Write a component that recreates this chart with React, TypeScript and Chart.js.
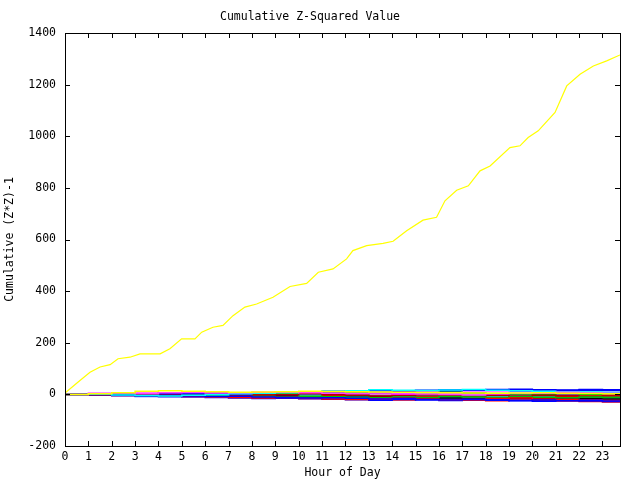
import React, { useEffect, useRef } from "react";
import { Chart, registerables } from "chart.js";

Chart.register(...registerables);

const titleText = "Cumulative Z-Squared Value";
const xTitle = "Hour of Day";
const yTitle = "Cumulative (Z*Z)-1";
const xTickLabels = ["0","1","2","3","4","5","6","7","8","9","10","11","12","13","14","15","16","17","18","19","20","21","22","23"];
const yTicks = [-200, 0, 200, 400, 600, 800, 1000, 1200, 1400];

// main (rising) series
const yellowHours = [0,0.64,1.07,1.5,1.93,2.27,2.78,3.21,4.07,4.49,4.99,5.56,5.85,6.33,6.76,7.19,7.7,8.2,8.9,9.63,10.34,10.84,11.47,12.05,12.32,12.91,13.61,14.04,14.62,15.32,15.9,16.26,16.76,17.26,17.76,18.19,19.04,19.47,19.82,20.25,20.97,21.47,22.04,22.61,23.18,23.75];
const yellowValues = [5,54,86,106,115,138,144,157,157,177,215,215,241,260,267,305,338,350,376,418,430,473,486,525,557,576,585,593,634,675,686,750,791,808,866,885,956,963,995,1021,1092,1195,1240,1272,1292,1315];

// hourly points for the near-zero series
const hours = [0,1,2,3,4,5,6,7,8,9,10,11,12,13,14,15,16,17,18,19,20,21,22,23,23.75];

const s01 = [0,2,6,12,14,12,10,8,9,10,12,11,10,9,8,7,6,5,4,5,6,4,3,2,3];
const s02 = [0,4,5,3,6,7,5,6,8,9,6,4,3,5,2,1,0,-2,2,4,6,8,5,4,6];
const s03 = [0,1,-2,-4,-6,-3,-1,2,4,6,10,12,14,18,16,15,17,19,16,14,12,10,9,8,7];
const s04 = [0,-1,-3,-5,-4,-6,-8,-7,-10,-12,-14,-13,-15,-18,-16,-20,-22,-19,-21,-24,-22,-25,-23,-26,-27];
const s05 = [0,-2,-4,-3,-5,-8,-10,-12,-14,-12,-16,-18,-20,-17,-15,-18,-22,-20,-16,-14,-18,-20,-22,-24,-28];
const s06 = [0,-1,-2,-4,-5,-7,-6,-9,-8,-10,-7,-9,-11,-13,-10,-12,-8,-10,-12,-9,-11,-13,-10,-12,-14];
const s07 = [0,1,2,1,3,2,4,3,5,8,10,12,14,15,13,16,18,17,19,20,18,17,19,18,20];
const s08 = [0,-1,1,0,-2,-4,-3,-5,-2,0,2,-1,-3,-6,-4,-2,-5,-7,-4,-6,-3,-5,-8,-6,-9];
const s09 = [0,-2,-1,-3,-4,-3,-5,-6,-8,-7,-9,-11,-12,-10,-13,-15,-14,-16,-13,-15,-17,-14,-16,-18,-17];
const s10 = [0,-3,-5,-8,-9,-11,-10,-12,-9,-11,-13,-10,-12,-14,-11,-13,-15,-12,-14,-16,-13,-15,-17,-19,-21];
const s11 = [0,2,3,1,-1,-3,-5,-4,-2,-6,-8,-5,-3,-7,-5,-9,-7,-11,-13,-10,-12,-9,-6,-4,-2];
const s12 = [0,-2,-4,-6,-8,-10,-12,-14,-16,-15,-17,-19,-21,-23,-20,-22,-24,-21,-23,-25,-27,-24,-26,-28,-30];
const s13 = [0,1,3,2,4,1,3,5,2,4,6,3,5,7,4,6,8,5,3,1,-1,-3,0,2,1];
const s14 = [0,3,4,6,5,7,8,6,4,7,9,11,8,10,12,9,7,10,12,14,11,9,7,10,12];
const s15 = [0,-1,0,-2,-1,-3,-2,1,3,6,8,9,11,10,12,14,13,15,12,14,16,15,17,16,18];
const s16 = [0,-1,-3,-2,-4,-6,-8,-7,-9,-11,-14,-16,-18,-20,-22,-19,-21,-23,-25,-22,-24,-26,-28,-30,-31];
const s17 = [0,-1,1,3,2,0,-2,-4,-1,1,-3,-5,-2,-6,-8,-5,-3,-7,-9,-6,-4,-8,-10,-7,-5];
const s18 = [0,1,-1,-3,-2,-4,-6,-5,-7,-4,-2,-5,-8,-6,-9,-11,-8,-10,-7,-9,-12,-10,-13,-11,-14];
const s19 = [0,-1,-2,0,1,-1,-3,-2,0,-1,-4,-3,-1,2,0,-2,1,3,0,-2,1,-1,2,0,3];
const s20 = [0,-1,-2,-1,-3,-5,-4,-6,-5,-7,-9,-8,-10,-12,-11,-13,-15,-14,-16,-18,-17,-19,-21,-20,-22];
const s21 = [0,0,1,2,0,-1,1,3,2,4,6,5,7,9,8,10,12,11,13,12,14,13,15,14,16];
const s22 = [0,-1,0,-1,-2,-3,-2,-4,-6,-5,-8,-10,-9,-11,-10,-12,-14,-13,-15,-17,-16,-18,-17,-19,-20];
const s23 = [0,0,-1,0,1,2,3,1,0,-2,-4,-3,-5,-4,-6,-5,-3,-4,-2,-3,-5,-4,-6,-5,-7];
const s24 = [0,-1,-3,-4,-6,-7,-9,-8,-10,-9,-11,-10,-8,-9,-7,-8,-6,-9,-11,-10,-12,-14,-13,-15,-16];

const smallSeries = [s01, s02, s03, s04, s05, s06, s07, s08, s09, s10, s11, s12, s13, s14, s15, s16, s17, s18, s19, s20, s21, s22, s23, s24];
const smallColors = ["#ffff00", "#ff40ff", "#00ffff", "#0000ff", "#ff0000", "#00c000", "#0000ff", "#b00000", "#000000", "#5050ff", "#ff0000", "#0000ff", "#00c000", "#ff80ff", "#0000ff", "#ff0000", "#00ffff", "#0000ff", "#ff00ff", "#0000ff", "#0000ff", "#ff0000", "#00c000", "#0000ff"];

const FONT = { family: "'DejaVu Sans Mono', monospace", size: 11.5 };

const frameTicks = {
  id: "frameTicks",
  afterDatasetsDraw(chart: any) {
    const { ctx, chartArea } = chart;
    const { left, right, top, bottom } = chartArea;
    const xs = chart.scales.x;
    const ys = chart.scales.y;
    const L = 5;
    ctx.save();
    ctx.strokeStyle = "#000";
    ctx.lineWidth = 1;
    ctx.beginPath();
    for (let i = 0; i < xTickLabels.length; i++) {
      const px = Math.round(xs.getPixelForValue(i)) + 0.5;
      ctx.moveTo(px, bottom);
      ctx.lineTo(px, bottom - L);
      ctx.moveTo(px, top);
      ctx.lineTo(px, top + L);
    }
    for (const v of yTicks) {
      const py = Math.round(ys.getPixelForValue(v)) + 0.5;
      ctx.moveTo(left, py);
      ctx.lineTo(left + L, py);
      ctx.moveTo(right, py);
      ctx.lineTo(right - L, py);
    }
    ctx.stroke();
    ctx.strokeRect(Math.round(left) + 0.5, Math.round(top) + 0.5, Math.round(right - left), Math.round(bottom - top));
    ctx.restore();
  },
};

export default function App() {
  const ref = useRef<HTMLCanvasElement>(null);
  useEffect(() => {
    if (!ref.current) return;
    const datasets: any[] = [];
    smallSeries.forEach((s, i) => {
      datasets.push({
        data: hours.map((h, j) => ({ x: h, y: s[j] })),
        borderColor: smallColors[i],
        backgroundColor: smallColors[i],
        borderWidth: 1.5,
        pointRadius: 0,
        showLine: true,
        stepped: true,
        fill: false,
      });
    });
    datasets.unshift({
      data: yellowHours.map((h, j) => ({ x: h, y: yellowValues[j] })),
      borderColor: "#ffff00",
      backgroundColor: "#ffff00",
      borderWidth: 1.2,
      pointRadius: 0,
      showLine: true,
      fill: false,
    });
    const chart = new Chart(ref.current, {
      type: "scatter",
      data: { datasets },
      options: {
        animation: false,
        responsive: false,
        devicePixelRatio: 1,
        layout: { padding: { left: 0, right: 20, top: 0, bottom: 0 } },
        plugins: {
          legend: { display: false },
          tooltip: { enabled: false },
          title: {
            display: true,
            text: titleText,
            color: "#000",
            font: { ...FONT, weight: "normal" },
            padding: { top: 10, bottom: 9.2 },
          },
        },
        scales: {
          x: {
            type: "linear",
            min: 0,
            max: 23.75,
            afterFit: (s: any) => { s.height = 34; },
            afterBuildTicks: (s: any) => { s.ticks = xTickLabels.map((_, i) => ({ value: i })); },
            grid: { display: false, drawTicks: false },
            border: { display: false },
            ticks: {
              autoSkip: false,
              maxRotation: 0,
              color: "#000",
              font: FONT,
              padding: 4,
              callback: (v: any) => xTickLabels[Number(v)] ?? "",
            },
            title: { display: true, text: xTitle, color: "#000", font: FONT, padding: { top: 0, bottom: 0 } },
          },
          y: {
            type: "linear",
            min: -200,
            max: 1400,
            afterFit: (s: any) => { s.width = 65; },
            afterBuildTicks: (s: any) => { s.ticks = yTicks.map((v) => ({ value: v })); },
            grid: { display: false, drawTicks: false },
            border: { display: false },
            ticks: { color: "#000", font: FONT, padding: 9, callback: (v: any) => String(v) },
            title: { display: true, text: yTitle, color: "#000", font: FONT, padding: { top: 3, bottom: 0 } },
          },
        },
      },
      plugins: [frameTicks],
    });
    return () => chart.destroy();
  }, []);
  return (
    <div style={{ position: "fixed", left: 0, top: 0, width: 640, height: 480, background: "#fff" }}>
      <canvas ref={ref} width={640} height={480} style={{ display: "block" }} />
    </div>
  );
}
